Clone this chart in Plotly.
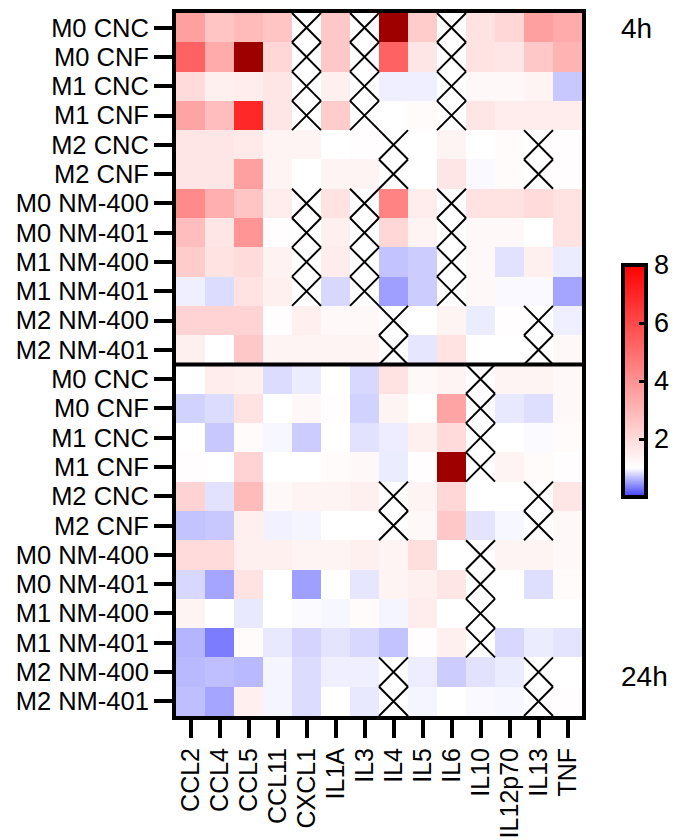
import plotly.graph_objects as go

# ---------------- data ----------------
cytokines = ["CCL2", "CCL4", "CCL5", "CCL11", "CXCL1", "IL1A", "IL3", "IL4",
             "IL5", "IL6", "IL10", "IL12p70", "IL13", "TNF"]
conditions = ["M0 CNC", "M0 CNF", "M1 CNC", "M1 CNF", "M2 CNC", "M2 CNF",
              "M0 NM-400", "M0 NM-401", "M1 NM-400", "M1 NM-401",
              "M2 NM-400", "M2 NM-401"]
N = None
values_4h = [
    [3.6, 2.6, 2.9, 2.6, N, 2.5, N, 9.0, 2.4, N, 1.8, 2.1, 3.6, 3.3],
    [5.3, 3.3, 9.0, 2.1, N, 2.5, N, 5.3, 1.7, N, 1.8, 1.7, 2.5, 3.1],
    [2.0, 1.4, 1.5, 1.7, N, 1.4, N, 0.92, 0.92, N, 1.2, 1.2, 1.3, 0.72],
    [3.5, 2.8, 6.9, 1.7, N, 2.4, N, 1.0, 1.1, N, 1.7, 1.5, 1.5, 1.5],
    [1.7, 1.7, 1.6, 1.3, 1.3, 1.0, 1.05, N, 1.0, 1.3, 1.0, 1.1, N, 1.05],
    [1.7, 1.7, 3.6, 1.3, 1.0, 1.3, 1.3, N, 1.0, 1.7, 0.97, 1.1, N, 1.05],
    [4.2, 3.2, 2.6, 1.5, N, 1.8, N, 4.4, 1.5, N, 1.8, 1.8, 2.0, 1.8],
    [2.8, 1.7, 3.9, 1.05, N, 1.4, N, 2.1, 1.3, N, 1.2, 1.2, 1.0, 1.8],
    [2.4, 1.8, 2.0, 1.35, N, 1.5, N, 0.69, 0.74, N, 1.2, 0.85, 1.4, 0.9],
    [0.92, 0.82, 1.8, 1.4, N, 0.8, N, 0.51, 0.74, N, 1.2, 0.97, 0.97, 0.54],
    [2.2, 2.2, 2.2, 1.05, 1.45, 1.2, 1.2, N, 1.0, 1.3, 0.9, 1.05, N, 0.92],
    [1.4, 1.0, 2.5, 1.3, 1.3, 1.3, 1.3, N, 0.87, 1.8, 1.0, 1.0, N, 1.2],
]
values_24h = [
    [1.0, 1.5, 1.4, 0.82, 0.9, 1.0, 0.8, 1.8, 1.2, 1.3, N, 1.3, 1.3, 1.2],
    [0.77, 0.82, 1.8, 1.0, 1.2, 1.05, 0.77, 1.3, 1.0, 3.5, N, 0.88, 0.83, 1.2],
    [1.0, 0.72, 1.1, 0.96, 0.74, 1.0, 0.85, 0.91, 1.4, 2.0, N, 1.0, 0.98, 1.1],
    [1.05, 1.0, 2.2, 1.0, 1.0, 1.1, 1.2, 0.9, 1.05, 9.0, N, 1.3, 1.1, 1.05],
    [2.2, 0.85, 2.9, 1.2, 1.3, 1.3, 1.4, N, 1.3, 2.1, 1.0, 1.0, N, 1.7],
    [0.69, 0.72, 1.4, 0.93, 0.95, 1.0, 1.0, N, 1.2, 2.5, 0.86, 0.96, N, 1.2],
    [2.0, 2.0, 1.4, 1.4, 1.3, 1.3, 1.4, 1.3, 1.9, 1.0, N, 1.3, 1.3, 1.2],
    [0.8, 0.54, 1.8, 1.0, 0.51, 1.0, 0.87, 1.3, 1.4, 1.7, N, 1.0, 0.83, 1.1],
    [1.3, 1.0, 0.88, 1.0, 0.98, 0.96, 1.1, 0.95, 1.5, 1.0, N, 1.0, 1.0, 1.0],
    [0.62, 0.33, 1.1, 0.88, 0.78, 0.86, 0.8, 0.69, 1.05, 1.4, N, 0.8, 0.9, 0.86],
    [0.64, 0.67, 0.64, 0.95, 0.82, 0.92, 0.92, N, 0.91, 0.74, 0.85, 0.9, N, 1.0],
    [0.67, 0.54, 1.4, 0.95, 0.82, 1.0, 0.88, N, 0.95, 1.0, 0.97, 0.96, N, 1.05],
]
time_labels = ["4h", "24h"]
cb_ticks = [2, 4, 6, 8]
ZMIN, ZMAX = 0, 8

# ---------------- build ----------------
FONT = "Liberation Sans, Arial, sans-serif"
W, H = 673, 840
ML, MR, MT, MB = 176, 91, 13, 124
pw, ph = W - ML - MR, H - MT - MB

z = values_4h + values_24h
nrow, ncol = len(z), len(cytokines)
xs = list(range(ncol))
ys = list(range(nrow))
ylabels = conditions + conditions

zmain = [[(v if v is not None else None) for v in row] for row in z]
zover = [[(v if (v is not None and v > ZMAX) else None) for v in row] for row in z]

CB_LEFT_PX, CB_CENTER_PX, CB_LEN_PX = 623, 381, 232

fig = go.Figure()
fig.add_trace(go.Heatmap(
    z=zmain, x=xs, y=ys, zmin=ZMIN, zmax=ZMAX,
    colorscale=[[0, "rgb(60,60,255)"], [0.125, "rgb(255,255,255)"], [1, "rgb(255,0,0)"]],
    hoverongaps=False,
    colorbar=dict(
        x=(CB_LEFT_PX - ML) / pw, xanchor="left", xpad=0,
        y=(MT + ph - CB_CENTER_PX) / ph, yanchor="middle", ypad=0,
        lenmode="pixels", len=CB_LEN_PX, thickness=23,
        outlinewidth=4, outlinecolor="black",
        tickvals=cb_ticks, ticks="inside", ticklen=9, tickwidth=3, tickcolor="black",
        tickfont=dict(family=FONT, size=27, color="black"),
    ),
))
fig.add_trace(go.Heatmap(
    z=zover, x=xs, y=ys, zmin=0, zmax=1, showscale=False, hoverongaps=False,
    colorscale=[[0, "rgb(158,0,0)"], [1, "rgb(158,0,0)"]],
))

# X marks for missing cells
lx, ly = [], []
for r, row in enumerate(z):
    for c, v in enumerate(row):
        if v is None:
            lx += [c - 0.5, c + 0.5, None, c - 0.5, c + 0.5, None]
            ly += [r - 0.5, r + 0.5, None, r + 0.5, r - 0.5, None]
fig.add_trace(go.Scatter(x=lx, y=ly, mode="lines", line=dict(color="black", width=2),
                         hoverinfo="skip", showlegend=False))

# divider between 4h and 24h
fig.add_shape(type="line", xref="x domain", x0=0, x1=1, yref="y",
              y0=len(conditions) - 0.5, y1=len(conditions) - 0.5,
              line=dict(color="black", width=4))

# left-side colorbar tick dashes
cb_bottom = (MT + ph - CB_CENTER_PX - CB_LEN_PX / 2) / ph
cb_len = CB_LEN_PX / ph
cb_left = (CB_LEFT_PX - ML) / pw
for t in cb_ticks:
    yy = cb_bottom + (t - ZMIN) / (ZMAX - ZMIN) * cb_len
    fig.add_shape(type="line", xref="paper", yref="paper",
                  x0=cb_left, x1=cb_left + 10 / pw, y0=yy, y1=yy,
                  line=dict(color="black", width=3))

fig.add_annotation(text=time_labels[0], xref="paper", yref="paper",
                   x=(619 - ML) / pw, y=(MT + ph - 28) / ph, xanchor="left", yanchor="middle",
                   showarrow=False, font=dict(family=FONT, size=28, color="black"))
fig.add_annotation(text=time_labels[1], xref="paper", yref="paper",
                   x=(619 - ML) / pw, y=(MT + ph - 676) / ph, xanchor="left", yanchor="middle",
                   showarrow=False, font=dict(family=FONT, size=28, color="black"))

fig.update_xaxes(range=[-0.5, ncol - 0.5], tickvals=xs, ticktext=cytokines, tickangle=-90,
                 ticks="outside", ticklen=18, tickwidth=4, tickcolor="black",
                 showline=True, linewidth=4, linecolor="black", mirror=True,
                 showgrid=False, zeroline=False,
                 tickfont=dict(family=FONT, size=25, color="black"))
fig.update_yaxes(range=[nrow - 0.5, -0.5], tickvals=ys, ticktext=ylabels,
                 ticks="outside", ticklen=18, tickwidth=4, tickcolor="black",
                 showline=True, linewidth=4, linecolor="black", mirror=True,
                 showgrid=False, zeroline=False,
                 tickfont=dict(family=FONT, size=25.5, color="black"))

fig.update_layout(width=W, height=H,
                  margin=dict(l=ML, r=MR, t=MT, b=MB, autoexpand=False),
                  plot_bgcolor="white", paper_bgcolor="white", showlegend=False)

fig.write_html("out.html")
